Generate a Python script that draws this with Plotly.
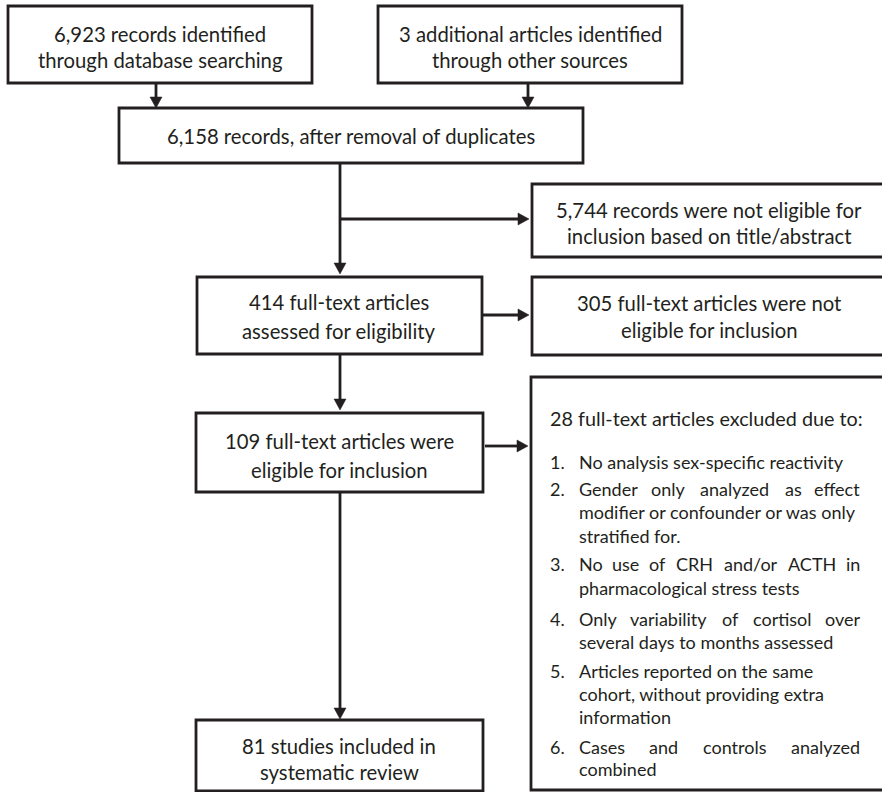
import plotly.graph_objects as go

W, H = 882, 792
FONT = "Lato"
INK = "#231f20"

# ---- content (texts / counts) ----
box_labels = {
    "A": ["6,923 records identified", "through database searching"],
    "B": ["3 additional articles identified", "through other sources"],
    "C": ["6,158 records, after removal of duplicates"],
    "D": ["5,744 records were not eligible for", "inclusion based on title/abstract"],
    "E": ["414 full-text articles", "assessed for eligibility"],
    "F": ["305 full-text articles were not", "eligible for inclusion"],
    "G": ["109 full-text articles were", "eligible for inclusion"],
    "I": ["81 studies included in", "systematic review"],
}
excl_header = "28 full-text articles excluded due to:"
excl_numbers = ["1.", "2.", "3.", "4.", "5.", "6."]
excl_lines = [
    [["No analysis sex-specific reactivity"]],
    [["Gender", "only", "analyzed", "as", "effect"], ["modifier or confounder or was only"], ["stratified for."]],
    [["No", "use", "of", "CRH", "and/or", "ACTH", "in"], ["pharmacological stress tests"]],
    [["Only", "variability", "of", "cortisol", "over"], ["several days to months assessed"]],
    [["Articles reported on the same"], ["cohort, without providing extra"], ["information"]],
    [["Cases", "and", "controls", "analyzed"], ["combined"]],
]
justified = {(1, 0), (2, 0), (3, 0), (5, 0)}

# ---- layout geometry ----
boxes = {  # x0, y0, x1, y1, text center x, baselines, open right
    "A": (8, 6, 312, 83, 160, [41, 67], False),
    "B": (378, 6, 682, 83, 530, [41, 67], False),
    "C": (119, 108, 583, 163, 351, [143], False),
    "D": (532, 184, 900, 257, 709, [217, 243], True),
    "E": (197, 277, 482, 354, 339, [309, 338], False),
    "F": (532, 277, 900, 355, 709, [310, 337], True),
    "G": (196, 413, 483, 492, 339, [448, 477], False),
    "I": (196, 720, 483, 791, 339, [753, 779], False),
}
LW = 2.8
FS = 20.3
FS_HEAD = 19.8
FS_ITEM = 18
shapes = []
annotations = []

# approximate advance widths (em) for Lato Regular, used to justify lines
CW = dict(a=.51, b=.56, c=.46, d=.56, e=.52, f=.32, g=.50, h=.56, i=.24, j=.24, k=.50,
          l=.24, m=.83, n=.56, o=.56, p=.56, q=.56, r=.36, s=.43, t=.35, u=.56, v=.50,
          w=.76, x=.49, y=.50, z=.45, A=.68, C=.66, G=.71, H=.74, N=.75, O=.79, R=.61,
          T=.58)
CW["/"] = .37
CW["-"] = .33


def tw(word, fs):
    return 1.024 * fs * sum(CW.get(ch, .55) for ch in word)


def mid(baseline, fs=FS):
    return baseline - 0.33 * fs


def txt(x, bl, s, anchor, fs):
    annotations.append(dict(x=x, y=mid(bl, fs), text=s, showarrow=False,
                            xanchor=anchor, yanchor="middle",
                            font=dict(family=FONT, size=fs, color=INK)))


for key, (x0, y0, x1, y1, cx, bls, open_r) in boxes.items():
    if open_r:
        path = f"M {x1} {y0} L {x0} {y0} L {x0} {y1} L {x1} {y1}"
        shapes.append(dict(type="path", path=path, xref="x", yref="y",
                           line=dict(color=INK, width=LW)))
    else:
        shapes.append(dict(type="rect", x0=x0, y0=y0, x1=x1, y1=y1, xref="x", yref="y",
                           line=dict(color=INK, width=LW), fillcolor="rgba(0,0,0,0)"))
    for line, bl in zip(box_labels[key], bls):
        txt(cx, bl, line, "center", FS)

# exclusion box (open on the right)
shapes.append(dict(type="path", path="M 900 377 L 531 377 L 531 790 L 900 790",
                   xref="x", yref="y", line=dict(color=INK, width=LW)))
txt(548, 425, excl_header, "left", FS_HEAD)

num_x, text_x, right_x = 548, 577, 862
item_baselines = [
    [468],
    [495, 518, 542],
    [570, 594],
    [625, 648],
    [677, 700, 723],
    [753, 775],
]
for i, (num, lines, bls) in enumerate(zip(excl_numbers, excl_lines, item_baselines)):
    txt(num_x, bls[0], num, "left", FS_ITEM)
    for j, (words, bl) in enumerate(zip(lines, bls)):
        if (i, j) in justified:
            widths = [tw(w, FS_ITEM) for w in words]
            gap = (right_x - text_x - sum(widths)) / (len(words) - 1)
            pos = text_x
            for k, (w, wd) in enumerate(zip(words, widths)):
                if k == 0:
                    txt(text_x, bl, w, "left", FS_ITEM)
                elif k == len(words) - 1:
                    txt(right_x, bl, w, "right", FS_ITEM)
                else:
                    txt(pos + wd / 2, bl, w, "center", FS_ITEM)
                pos += wd + gap
        else:
            txt(text_x, bl, " ".join(words), "left", FS_ITEM)

# ---- connectors ----
HEAD_L, HEAD_W = 11, 6


def arrow(x0, y0, x1, y1):
    if x0 == x1:
        d = 1 if y1 > y0 else -1
        shapes.append(dict(type="line", x0=x0, y0=y0, x1=x1, y1=y1 - d * HEAD_L, xref="x", yref="y",
                           line=dict(color=INK, width=LW)))
        p = f"M {x1} {y1} L {x1-HEAD_W} {y1-d*HEAD_L} L {x1+HEAD_W} {y1-d*HEAD_L} Z"
    else:
        d = 1 if x1 > x0 else -1
        shapes.append(dict(type="line", x0=x0, y0=y0, x1=x1 - d * HEAD_L, y1=y1, xref="x", yref="y",
                           line=dict(color=INK, width=LW)))
        p = f"M {x1} {y1} L {x1-d*HEAD_L} {y1-HEAD_W} L {x1-d*HEAD_L} {y1+HEAD_W} Z"
    shapes.append(dict(type="path", path=p, xref="x", yref="y",
                       fillcolor=INK, line=dict(color=INK, width=0.5)))


arrow(156, 83, 156, 108)
arrow(528, 83, 528, 108)
arrow(340, 163, 340, 274)
arrow(340, 219, 529, 219)
arrow(482, 315, 529, 315)
arrow(340, 354, 340, 410)
arrow(485, 446, 528, 446)
arrow(340, 492, 340, 719)

fig = go.Figure()
fig.update_layout(
    width=W, height=H,
    margin=dict(l=0, r=0, t=0, b=0),
    paper_bgcolor="white", plot_bgcolor="white",
    xaxis=dict(range=[0, W], visible=False, fixedrange=True),
    yaxis=dict(range=[H, 0], visible=False, fixedrange=True),
    shapes=shapes, annotations=annotations, showlegend=False,
)
fig.write_html("out.html", config={"displayModeBar": False},
               post_script="document.body.style.margin='0';document.body.style.overflow='hidden';")
